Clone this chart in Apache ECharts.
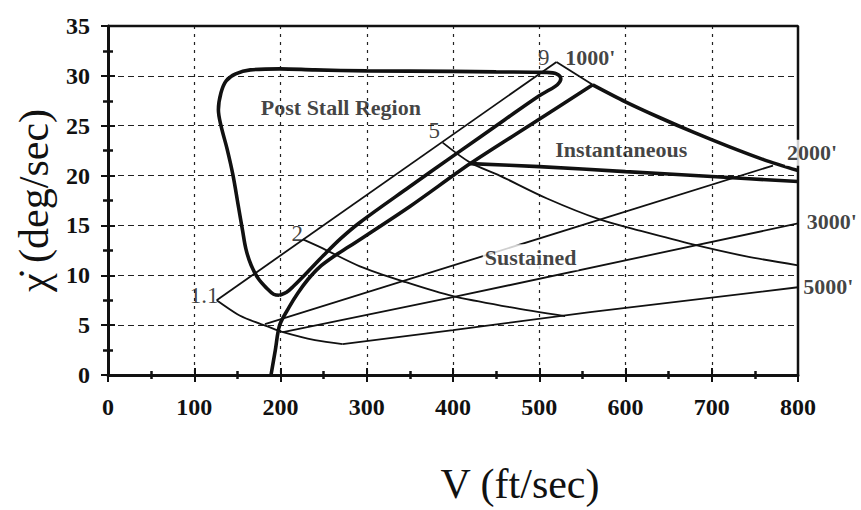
<!DOCTYPE html>
<html>
<head>
<meta charset="utf-8">
<script src="https://cdn.jsdelivr.net/npm/echarts@6/dist/echarts.min.js"></script>
<style>
  html, body { margin: 0; padding: 0; background: #fff; }
  #chart { width: 861px; height: 510px; }
</style>
</head>
<body>
<div id="chart"></div>
<script>
// values: [V (ft/sec), chi-dot (deg/sec)]
const xTicks = [0, 100, 200, 300, 400, 500, 600, 700, 800];
const yTicks = [0, 5, 10, 15, 20, 25, 30, 35];

const stallLine = [[126, 7.5], [520, 31.4]];
const postStallLoop = [
  [199, 8.0], [207, 8.3], [215, 8.9], [230, 10.2], [250, 12.0], [270, 13.7],
  [292, 15.3], [350, 18.9], [404, 22.2], [460, 25.6], [500, 28.0], [512, 28.6],
  [521, 29.1], [525, 29.7], [520, 30.2], [508, 30.35], [450, 30.4],
  [400, 30.45], [300, 30.5], [240, 30.6], [199, 30.7], [165, 30.6], [148, 30.2],
  [137, 29.5], [131, 28.3], [128, 26.6], [131, 25.0], [138, 22.7], [145, 20.0],
  [151, 17.0], [156, 14.5], [160, 12.6], [166, 11.0], [174, 9.7], [184, 8.7],
  [192, 8.1], [199, 8.0]
];
const liftLimit = [
  [189, 0], [194, 2.5], [199, 5.0], [210, 6.8], [220, 8.2], [232, 9.6],
  [245, 10.8], [262, 11.9], [280, 12.9], [350, 16.9], [420, 21.2], [490, 25.1], [562, 29.1]
];
const n9Thin = [[520, 31.4], [562, 29.1]];
const n9Thick = [[562, 29.1], [600, 27.4], [640, 25.8], [680, 24.3], [720, 22.9], [760, 21.6], [800, 20.5]];
const inst2000 = [[420, 21.2], [500, 20.9], [600, 20.4], [700, 19.9], [800, 19.4]];
const n5Line = [[388, 23.3], [420, 21.3], [454, 20.0], [509, 17.7], [570, 15.6], [620, 14.4], [678, 13.1], [740, 11.9], [800, 11.0]];
const n2Line = [[226, 13.6], [249, 12.7], [292, 10.9], [342, 9.4], [400, 7.9], [466, 6.8], [530, 5.9]];
const n11Line = [[126, 7.5], [150, 6.1], [165, 5.5], [184, 4.9], [203, 4.3], [240, 3.5], [272, 3.1]];
const sus2000 = [[182, 5.1], [771, 21.0]];
const sus3000 = [[203, 4.3], [400, 7.8], [800, 15.2]];
const sus5000 = [[272, 3.1], [400, 4.5], [559, 6.3], [800, 8.8]];

const serif = "'Liberation Serif', 'Times New Roman', serif";

function thin(data, smooth) {
  return {
    type: "line", data: data, smooth: smooth || false, symbol: "none", silent: true,
    lineStyle: { color: "#111", width: 1.8 }, z: 3
  };
}
function thick(data, smooth) {
  return {
    type: "line", data: data, smooth: smooth || false, symbol: "none", silent: true,
    lineStyle: { color: "#111", width: 3.6 }, z: 4
  };
}

// text notes placed at data positions
const notes = [
  { text: "Post Stall Region", at: [270, 26.8], pos: "inside", bold: true },
  { text: "Instantaneous", at: [595, 22.6], pos: "inside", bold: true },
  { text: "Sustained", at: [490, 11.8], pos: "inside", bold: true, bg: true },
  { text: "1000'", at: [530, 31.8], pos: "right", bold: true },
  { text: "2000'", at: [785, 22.3], pos: "right", bold: true, bg: true },
  { text: "3000'", at: [810, 15.4], pos: "right", bold: true },
  { text: "5000'", at: [806, 8.85], pos: "right", bold: true },
  { text: "9", at: [512, 31.8], pos: "left" },
  { text: "5", at: [385, 24.5], pos: "left" },
  { text: "2", at: [226, 14.2], pos: "left" },
  { text: "1.1", at: [128, 8.0], pos: "left" }
];

var myChart = echarts.init(document.getElementById("chart"), null, { renderer: "svg" });

var option = {
  animation: false,
  backgroundColor: "#fff",
  textStyle: { fontFamily: serif },
  grid: { left: 108, right: 63, top: 26, bottom: 132 },
  xAxis: [
    {
      type: "value", min: 0, max: 800, interval: 100, position: "bottom",
      name: "V (ft/sec)", nameLocation: "middle", nameGap: 88,
      nameTextStyle: { fontFamily: serif, fontSize: 42, color: "#111", padding: [0, 0, 0, 134] },
      axisLine: { show: true, onZero: false, lineStyle: { color: "#111", width: 3 } },
      axisTick: { show: true, inside: false, length: 7, lineStyle: { color: "#111", width: 2 } },
      minorTick: { show: true, splitNumber: 2, length: 4, lineStyle: { color: "#111", width: 2.5 } },
      axisLabel: {
        margin: 20, fontFamily: serif, fontSize: 24, fontWeight: "bold", color: "#111",
        formatter: function (v) { return xTicks.indexOf(v) >= 0 ? String(v) : ""; }
      },
      splitLine: { show: true, showMinLine: false, showMaxLine: false, lineStyle: { color: "#222", width: 1.2, type: [3, 5] } }
    },
    {
      type: "value", min: 0, max: 800, interval: 100, position: "bottom", offset: 0,
      axisLine: { show: false }, axisLabel: { show: false }, splitLine: { show: false },
      axisTick: { show: true, inside: true, length: 7, lineStyle: { color: "#111", width: 2 } },
      minorTick: { show: true, splitNumber: 2, length: 4, lineStyle: { color: "#111", width: 2.5 } }
    }
  ],
  yAxis: [
    {
      type: "value", min: 0, max: 35, interval: 5, position: "left",
      name: "\u03C7\u0307 (deg/sec)", nameLocation: "middle", nameRotate: 90, nameGap: 52,
      nameTextStyle: { fontFamily: serif, fontSize: 42, color: "#111" },
      axisLine: { show: true, onZero: false, lineStyle: { color: "#111", width: 3 } },
      axisTick: { show: true, inside: false, length: 7, lineStyle: { color: "#111", width: 2 } },
      minorTick: { show: true, splitNumber: 2, length: 5, lineStyle: { color: "#111", width: 2.5 } },
      axisLabel: {
        margin: 18, fontFamily: serif, fontSize: 24, fontWeight: "bold", color: "#111",
        formatter: function (v) { return yTicks.indexOf(v) >= 0 ? String(v) : ""; }
      },
      splitLine: { show: true, showMinLine: false, showMaxLine: false, lineStyle: { color: "#222", width: 1.2, type: [6, 4] } }
    },
    {
      type: "value", min: 0, max: 35, interval: 5, position: "left", offset: 0,
      axisLine: { show: false }, axisLabel: { show: false }, splitLine: { show: false },
      axisTick: { show: true, inside: true, length: 7, lineStyle: { color: "#111", width: 2 } },
      minorTick: { show: true, splitNumber: 2, length: 5, lineStyle: { color: "#111", width: 2.5 } }
    }
  ],
  series: [
    // frame top and right
    {
      type: "line", data: [[0, 35], [800, 35], [800, 0]], symbol: "none", silent: true, clip: false,
      lineStyle: { color: "#111", width: 2.5 }, z: 2
    },
    thin(stallLine),
    thick(postStallLoop, 0.35),
    thick(liftLimit, 0.3),
    thin(n9Thin),
    thick(n9Thick, 0.3),
    thick(inst2000, 0.3),
    thin(n5Line, 0.3),
    thin(n2Line, 0.3),
    thin(n11Line, 0.3),
    thin(sus2000),
    thin(sus3000),
    thin(sus5000),
    {
      type: "scatter", symbolSize: 0, silent: true, z: 10, clip: false,
      data: notes.map(function (n) {
        return {
          value: n.at,
          label: {
            show: true, position: n.pos, distance: 0,
            formatter: n.text,
            fontFamily: serif,
            fontSize: n.bold ? 22 : 23,
            fontWeight: n.bold ? "bold" : "normal",
            color: "#111",
            backgroundColor: n.bg ? "#fff" : "transparent",
            padding: n.bg ? [2, 2] : 0
          }
        };
      })
    }
  ]
};
myChart.setOption(option);
</script>
</body>
</html>
